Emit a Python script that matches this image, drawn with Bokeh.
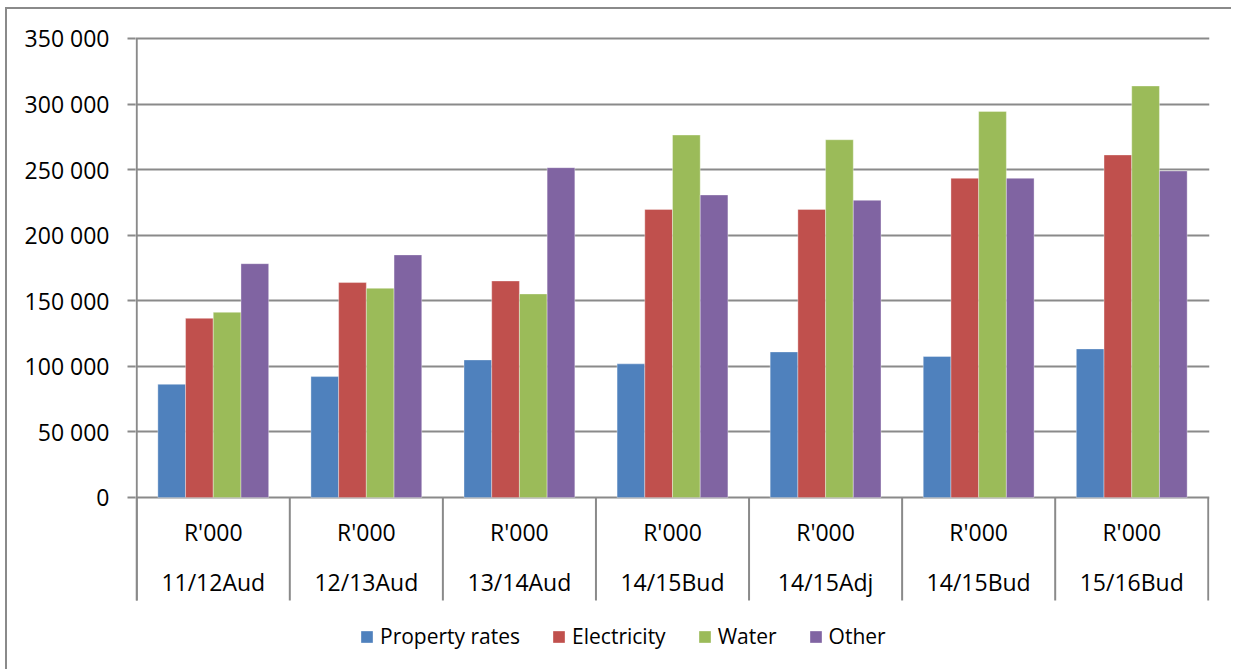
import numpy as np
from bokeh.plotting import figure
from bokeh.models import Range1d, FixedTicker, Legend, LegendItem, ColumnDataSource, GlobalInlineStyleSheet
from bokeh.core.properties import value
from bokeh.embed import file_html
from bokeh.resources import INLINE

# Revenue by source, R'000
periods = ["11/12Aud", "12/13Aud", "13/14Aud", "14/15Bud", "14/15Adj", "14/15Bud", "15/16Bud"]
unit_label = "R'000"
property_rates = [86300, 92200, 104900, 101900, 111000, 107500, 113300]
electricity = [136600, 163900, 165100, 219700, 219700, 243400, 261200]
water = [141200, 159500, 155200, 276400, 272800, 294400, 313800]
other = [178300, 185000, 251500, 230700, 226600, 243400, 249000]

series_names = ["Property rates", "Electricity", "Water", "Other"]
series_values = [property_rates, electricity, water, other]
colors = ["#4F81BD", "#C0504D", "#9BBB59", "#8064A2"]
y_ticks = [0, 50000, 100000, 150000, 200000, 250000, 300000, 350000]

FONT = "Open Sans"
GRID = "#8a8a8a"

n = len(periods)
centers = np.arange(n) + 0.5
bar_w = 0.181
offsets = [-1.5 * bar_w, -0.5 * bar_w, 0.5 * bar_w, 1.5 * bar_w]

# the frame reaches the bottom of the canvas so the category block and
# legend sit inside it; the separators stop at sep_bottom
y_top = 351525
y_bottom = -132680
sep_bottom = -78540
pad_x = 0.008

p = figure(
    width=1226, height=662,
    x_range=Range1d(-pad_x, n + pad_x), y_range=Range1d(y_bottom, y_top),
    x_axis_location=None,
    min_border_left=128, min_border_right=24, min_border_top=27, min_border_bottom=0,
    output_backend="svg", toolbar_location=None,
)
p.margin = (7, 0, 0, 5)
p.styles = {"border-left": f"2px solid {GRID}", "border-top": f"2px solid {GRID}"}
p.stylesheets = [GlobalInlineStyleSheet(css="html, body { margin: 0; overflow: hidden; }")]
p.outline_line_color = None
p.background_fill_color = "white"
p.border_fill_color = "white"
p.xgrid.visible = False

yax = p.yaxis[0]
yax.ticker = FixedTicker(ticks=y_ticks)
yax.major_label_overrides = {v: f"{v:,}".replace(",", " ") for v in y_ticks}
yax.major_label_text_font = FONT
yax.major_label_text_font_size = "23px"
yax.major_label_text_color = "black"
yax.major_tick_out = 8
yax.major_tick_in = 0
yax.minor_tick_out = 0
yax.minor_tick_in = 0
yax.major_label_standoff = 18
yax.axis_line_color = None
yax.major_tick_line_color = GRID
yax.major_tick_line_width = 2

p.ygrid.ticker = FixedTicker(ticks=y_ticks)
p.ygrid.grid_line_color = GRID
p.ygrid.grid_line_width = 2

items = []
for name, vals, off, col in zip(series_names, series_values, offsets, colors):
    src = ColumnDataSource(dict(x=centers + off, top=vals))
    r = p.vbar(x="x", top="top", bottom=0, width=bar_w, source=src,
               fill_color=col, line_color="white", line_alpha=0.35, line_width=1)
    items.append(LegendItem(label=name, renderers=[r]))

# value axis line, running down through the category block
p.segment(x0=[0], y0=[sep_bottom], x1=[0], y1=[y_ticks[-1]], line_color=GRID, line_width=2)

# group separators through the category block
edges = np.arange(n + 1)
p.segment(x0=edges, y0=np.zeros(n + 1), x1=edges, y1=np.full(n + 1, sep_bottom),
          line_color=GRID, line_width=2)

# two-level category labels
lab = ColumnDataSource(dict(x=centers, y=np.zeros(n), unit=[unit_label] * n, period=periods))
p.text(x="x", y="y", text="unit", source=lab, text_align="center", text_baseline="middle",
       y_offset=35, text_font=value(FONT), text_font_size="23px", text_color="black")
p.text(x="x", y="y", text="period", source=lab, text_align="center", text_baseline="middle",
       y_offset=85, text_font=value(FONT), text_font_size="23px", text_color="black")

legend = Legend(
    items=items, orientation="horizontal", location=(224, 21),
    glyph_width=15, glyph_height=15, label_height=15, label_standoff=6, spacing=31,
    padding=0, margin=0, border_line_color=None, background_fill_alpha=0,
    label_text_font=FONT, label_text_font_size="21px", label_text_color="black",
    label_text_baseline="middle",
)
p.add_layout(legend, "center")

open("out.html", "w").write(file_html(p, INLINE))
